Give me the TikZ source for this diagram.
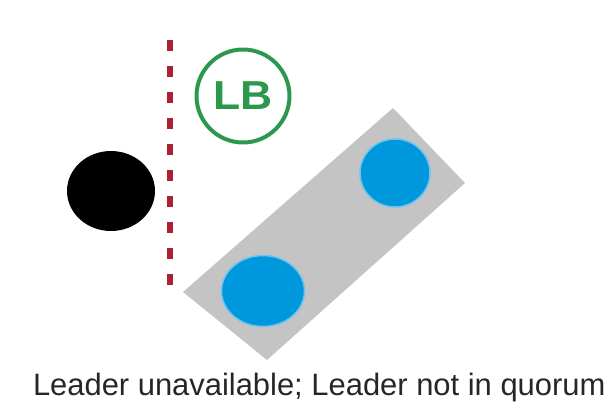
\documentclass[tikz,border=0pt]{standalone}
\usepackage{fontspec}
\setmainfont{Liberation Sans}
\usetikzlibrary{shapes.geometric}

\definecolor{lbgreen}{RGB}{44,152,78}
\definecolor{cutred}{RGB}{172,32,52}
\definecolor{memberblue}{RGB}{0,152,220}
\definecolor{memberrim}{RGB}{110,195,240}
\definecolor{groupgray}{RGB}{196,196,196}

\begin{document}
\begin{tikzpicture}[
        x = 0.02cm, y = -0.02cm,
        every node/.style = {inner sep = 0pt, outer sep = 0pt},
        lost/.style = {ellipse, fill = black, minimum width = 1.76cm, minimum height = 1.6cm},
        member/.style = {ellipse, fill = memberblue, draw = memberrim, line width = 0.03cm},
        balancer/.style = {circle, draw = lbgreen, line width = 0.08cm, minimum size = 1.86cm,
            text = lbgreen, font = \fontsize{23}{26}\selectfont\bfseries},
        partition/.style = {draw = cutred, line width = 0.11cm, dash pattern = on 0.22cm off 0.3cm},
        group/.style = {fill = groupgray},
        caption/.style = {font = \fontsize{17.6}{20}\selectfont, text = black!85}
    ]
        \useasboundingbox (0,0) rectangle (610,403);

        % quorum group
        \fill[group] (183,292) -- (267,360) -- (465,183) -- (393,108) -- cycle;
        \node[member, minimum width = 1.4cm, minimum height = 1.36cm] (follower) at (395,173) {};
        \node[member, minimum width = 1.66cm, minimum height = 1.42cm] (candidate) at (263,291) {};

        % cut off leader
        \node[lost] (leader) at (111,191) {};
        \coordinate (cutTop) at (170,40);
        \coordinate (cutBottom) at (170,296);
        \draw[partition] (cutTop) -- (cutBottom);

        \node[balancer] (lb) at (243,96) {\scalebox{1.1}[1]{LB}};

        \node[caption, anchor = base west] (caption) at (33,395) {Leader unavailable; Leader not in quorum};
\end{tikzpicture}
\end{document}
